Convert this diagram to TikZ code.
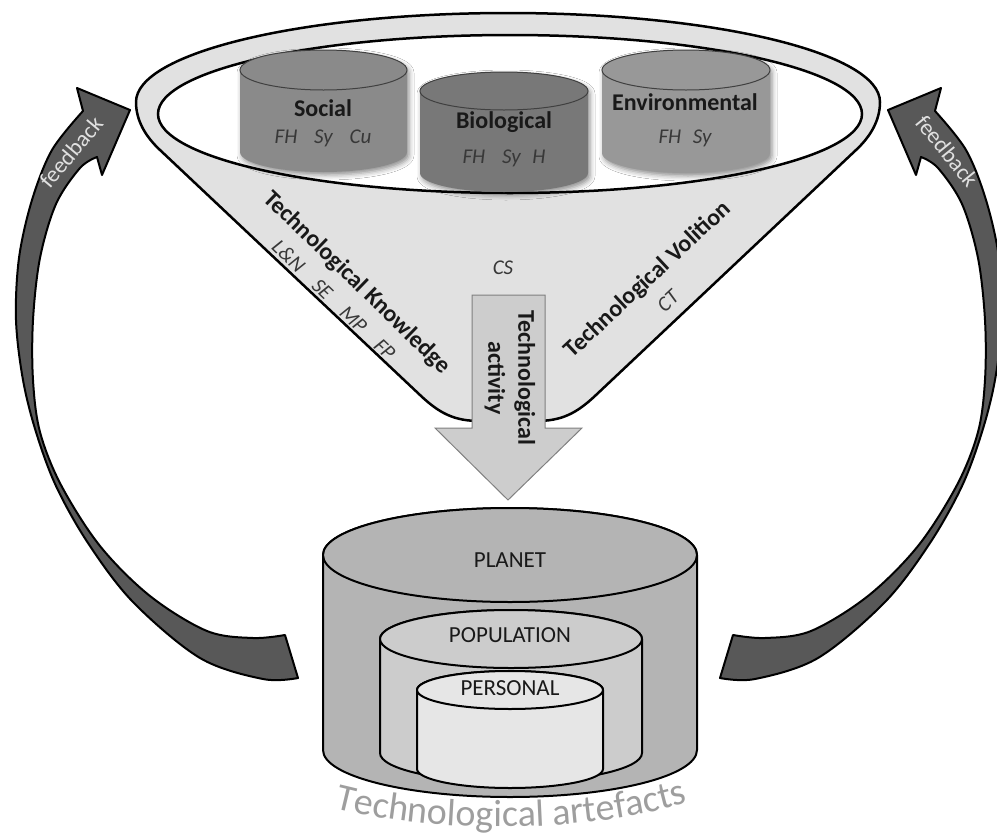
\documentclass[tikz,border=0pt]{standalone}
\usepackage{fontspec}
\setmainfont{Carlito}
\usetikzlibrary{decorations.text,shadows.blur}
\definecolor{funnelgray}{RGB}{225,225,225}
\definecolor{arrowdark}{RGB}{88,88,88}
\definecolor{socialc}{RGB}{138,138,138}
\definecolor{bioc}{RGB}{120,120,120}
\definecolor{envc}{RGB}{152,152,152}
\definecolor{planetc}{RGB}{180,180,180}
\definecolor{popc}{RGB}{204,204,204}
\definecolor{persc}{RGB}{230,230,230}
\definecolor{shaftc}{RGB}{205,205,205}
\definecolor{artc}{RGB}{158,158,158}
\definecolor{txtdark}{RGB}{25,25,25}
% cylinder silhouette: cx, ytop, ybot, rx, ry, style
\newcommand{\mycyl}[6]{%
  \path[#6] ({#1-#4},{-#2}) arc[start angle=180,end angle=0,x radius=#4,y radius=#5]
    -- ({#1+#4},{-#3}) arc[start angle=0,end angle=-180,x radius=#4,y radius=#5] -- cycle;}
\newcommand{\mytop}[5]{%
  \path[#5] (#1,{-#2}) ellipse[x radius=#3,y radius=#4];}
\newcommand{\fbshape}{(285,-635) -- (298,-678) -- plot[smooth, tension=0.55] coordinates {(298,-678) (263,-679) (200,-658) (133,-602) (88,-543) (56,-486) (36,-432) (23,-380) (16,-320) (19,-258) (32,-200) (52,-150) (83,-111)} -- (77,-88) -- (130,-110) -- (102,-175) -- (97,-157) -- plot[smooth, tension=0.55] coordinates {(97,-157) (80,-168) (56,-204) (40,-258) (33,-320) (33,-380) (40,-432) (61,-485) (100,-546) (150,-596) (207,-631) (253,-638) (285,-635)} -- cycle}
\begin{document}
\begin{tikzpicture}[x=1pt,y=1pt,
  boldlbl/.style={font=\fontsize{24}{30}\selectfont\bfseries, text=txtdark, inner sep=0pt},
  itlbl/.style={font=\fontsize{21}{24}\selectfont\itshape, text=black!78, inner sep=0pt},
  reglbl/.style={font=\fontsize{23}{26}\selectfont, text=txtdark, inner sep=0pt},
  fbtext/.style={font=\fontsize{23}{26}\selectfont, text=white!88!black, inner sep=0pt},
  fbarrow/.style={fill=arrowdark, draw=black, line width=2pt, line join=round},
  funnel/.style={fill=funnelgray, draw=black, line width=2.5pt, line join=round},
  topcyl/.style={blur shadow={shadow xshift=2pt, shadow yshift=-3pt, shadow blur radius=5pt, shadow opacity=45}},
  toprim/.style={draw=black!75, line width=1pt},
  botcyl/.style={draw=black, line width=2pt, line join=round},
  bigarrow/.style={fill=shaftc, draw=black!50, line width=1pt},
  arttext/.style={decorate, decoration={text along path, text align=center, text color=#1,
    text={|\fontsize{38}{40}\selectfont|Technological artefacts}}},
]
\useasboundingbox (0,0) rectangle (997,-836);

% feedback arrows
\path[fbarrow] \fbshape;
\begin{scope}[shift={(1018,0)}, xscale=-1]
  \path[fbarrow] \fbshape;
\end{scope}
\node[fbtext, rotate=50] (fbl) at (71,-152) {feedback};
\node[fbtext, rotate=-51] (fbr) at (947,-151) {feedback};

% funnel
\path[funnel] (160,-150) -- (420,-395) .. controls (440,-414) and (455,-421) .. (480,-421)
  -- (536,-421) .. controls (561,-421) and (576,-414) .. (596,-395) -- (856,-150)
  .. controls (871,-136) and (880,-120) .. (880,-102)
  arc[start angle=0, end angle=180, x radius=372, y radius=89]
  .. controls (136,-120) and (145,-136) .. (160,-150) -- cycle;
\path[fill=white, draw=black, line width=2.5pt] (510,-114) ellipse[x radius=352, y radius=79];

% top cylinders
\mycyl{323.5}{70}{152}{83.5}{20}{fill=socialc, topcyl}
\mytop{323.5}{70}{83.5}{20}{fill=socialc, toprim}
\mycyl{504}{91}{173}{84}{19}{fill=bioc, topcyl}
\mytop{504}{91}{84}{19}{fill=bioc, toprim}
\mycyl{686}{70}{153}{84}{20}{fill=envc, topcyl}
\mytop{686}{70}{84}{20}{fill=envc, toprim}

\node[boldlbl] (social) at (323,-108) {Social};
\node[itlbl] (socialv) at (323,-138) {FH\hspace{0.8em}Sy\hspace{0.8em}Cu};
\node[boldlbl] (bio) at (504,-122) {Biological};
\node[itlbl] (biov) at (504,-158) {FH\hspace{0.8em}Sy\hspace{0.55em}H};
\node[boldlbl] (env) at (685,-102) {Environmental};
\node[itlbl] (envv) at (685,-138) {FH\hspace{0.55em}Sy};

% funnel labels
\node[boldlbl, rotate=-44] (know) at (357,-283) {Technological Knowledge};
\node[itlbl, rotate=-44] (knowv) at (334,-300) {L\&N\hspace{0.9em}SE\hspace{0.9em}MP\hspace{0.9em}FP};
\node[boldlbl, rotate=43] (vol) at (648,-280) {Technological Volition};
\node[itlbl, rotate=43] (volv) at (668,-301) {CT};
\node[itlbl] (cs) at (503,-268) {CS};

% central arrow
\path[bigarrow] (472,-295) -- (545,-295) -- (545,-428) -- (582,-428) -- (508,-500)
  -- (435,-428) -- (472,-428) -- cycle;
\node[boldlbl, rotate=-90, align=center] (act) at (510,-378) {Technological\\activity};

% bottom cylinders
\mycyl{510}{555}{750}{187}{47}{fill=planetc, botcyl}
\mytop{510}{555}{187}{47}{fill=planetc, botcyl}
\mycyl{511}{639}{753}{131}{29}{fill=popc, botcyl}
\mytop{511}{639}{131}{29}{fill=popc, botcyl}
\mycyl{510}{690}{769}{93}{19}{fill=persc, botcyl}
\mytop{510}{690}{93}{19}{fill=persc, botcyl}
\node[reglbl] (planet) at (510,-560) {PLANET};
\node[reglbl] (pop) at (510,-635) {POPULATION};
\node[reglbl] (pers) at (510,-688) {PERSONAL};

% arched caption
\path[arttext=artc] (308,-800) .. controls (413,-837) and (607,-837) .. (714,-793);
\end{tikzpicture}
\end{document}
